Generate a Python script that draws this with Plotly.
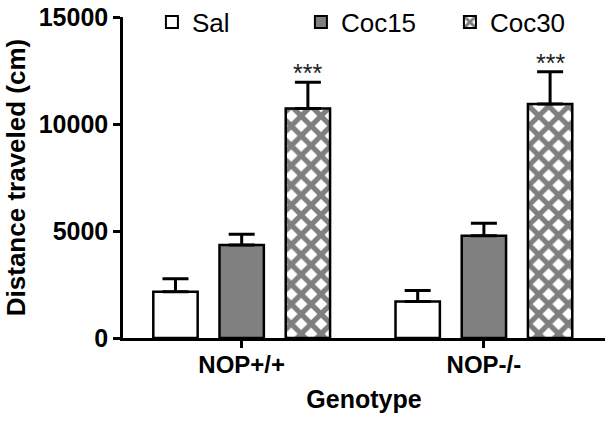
import plotly.graph_objects as go

genotypes = ["NOP+/+", "NOP-/-"]
sal_mean = [2160, 1700]
sal_err = [610, 520]
coc15_mean = [4350, 4780]
coc15_err = [500, 580]
coc30_mean = [10730, 10930]
coc30_err = [1220, 1510]
sig_labels = ["***", "***"]
y_ticks = [0, 5000, 10000, 15000]

xpos = list(range(len(genotypes)))
FONT = "Liberation Sans, Arial"

common_line = dict(color="black", width=2.5)
err_style = dict(type="data", symmetric=False, color="black", thickness=3, width=13)

fig = go.Figure()
fig.add_trace(go.Bar(
    name="Sal", x=xpos, y=sal_mean,
    marker=dict(color="white", line=common_line),
    error_y=dict(array=sal_err, arrayminus=[0] * len(sal_err), **err_style),
))
fig.add_trace(go.Bar(
    name="Coc15", x=xpos, y=coc15_mean,
    marker=dict(color="#808080", line=common_line),
    error_y=dict(array=coc15_err, arrayminus=[0] * len(coc15_err), **err_style),
))
fig.add_trace(go.Bar(
    name="Coc30", x=xpos, y=coc30_mean,
    marker=dict(color="white", line=common_line,
                pattern=dict(shape="x", fgcolor="black", bgcolor="white", size=14, solidity=0.6)),
    error_y=dict(array=coc30_err, arrayminus=[0] * len(coc30_err), **err_style),
))

bargap = 0.18
slot = (1 - bargap) / 3
for i, (m, e, s) in enumerate(zip(coc30_mean, coc30_err, sig_labels)):
    fig.add_annotation(x=i + slot, y=m + e, text=s, showarrow=False, yanchor="bottom",
                       yshift=-7, font=dict(family=FONT, size=25, color="#222222"))

fig.update_layout(
    width=613, height=422,
    margin=dict(l=123, r=8, t=17, b=84, autoexpand=False),
    plot_bgcolor="white", paper_bgcolor="white",
    barmode="group", bargap=bargap, bargroupgap=0.33,
    font=dict(family=FONT, color="black"),
    showlegend=True,
    legend=dict(orientation="h", x=0.06, xanchor="left", y=0.984, yanchor="middle",
                font=dict(size=26, color="black"), bgcolor="rgba(0,0,0,0)",
                entrywidth=104, entrywidthmode="pixels", itemsizing="constant"),
)
fig.update_xaxes(
    range=[-0.49, 1.5], tickvals=xpos, ticktext=genotypes,
    showline=True, linecolor="black", linewidth=2.5,
    ticks="outside", ticklen=7, tickwidth=2.5, tickcolor="black",
    showgrid=False, zeroline=False, ticklabelstandoff=-4,
    tickfont=dict(size=24, family=FONT, weight="bold"),
    title=dict(text="<b>Genotype</b>", font=dict(size=25), standoff=14),
)
fig.update_yaxes(
    range=[0, 15000], tickvals=y_ticks, ticktext=[str(v) for v in y_ticks],
    showline=True, linecolor="black", linewidth=2.5,
    ticks="outside", ticklen=7, tickwidth=2.5, tickcolor="black",
    showgrid=False, zeroline=False,
    tickfont=dict(size=25, family=FONT, weight="bold"),
    title=dict(text="<b>Distance traveled (cm)</b>", font=dict(size=26), standoff=6),
)

fig.write_html("out.html", config={"displayModeBar": False},
               post_script="document.body.style.margin='0';")
